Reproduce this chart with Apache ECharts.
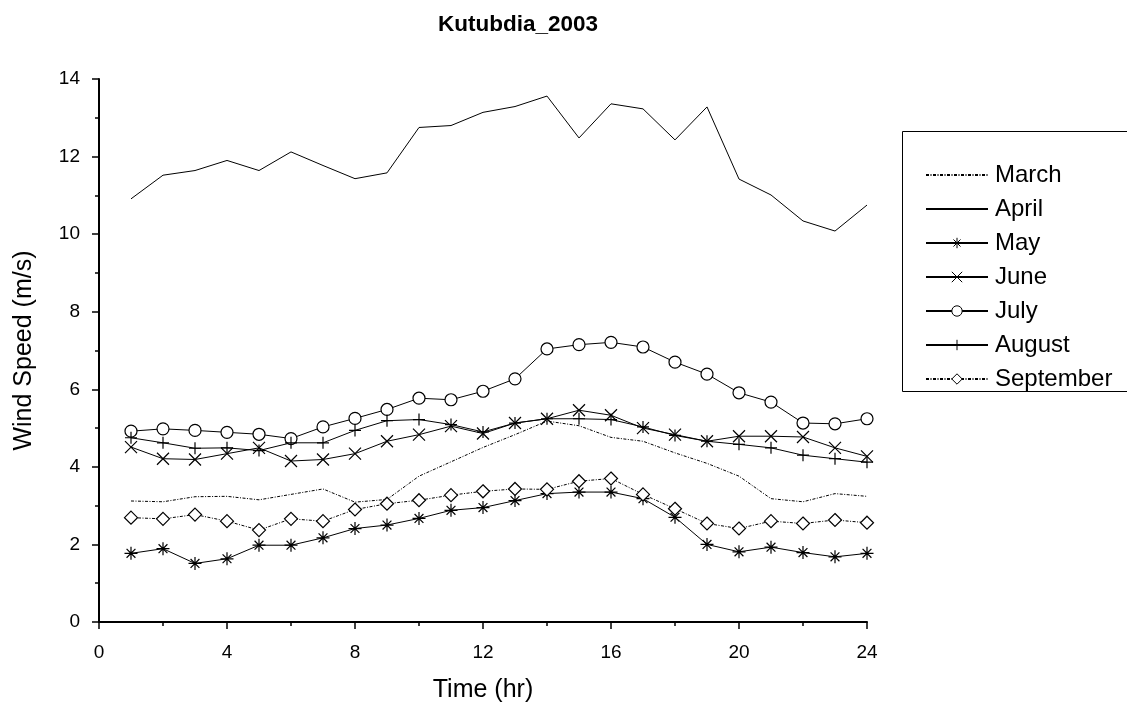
<!DOCTYPE html>
<html>
<head>
<meta charset="utf-8">
<script src="https://cdn.jsdelivr.net/npm/echarts@6/dist/echarts.min.js"></script>
<style>html,body{margin:0;padding:0;background:#fff}#c{width:1127px;height:711px}</style>
</head>
<body>
<div id="c"></div>
<script>
const hours = [1,2,3,4,5,6,7,8,9,10,11,12,13,14,15,16,17,18,19,20,21,22,23,24];
const xTicks = [0,4,8,12,16,20,24];
const yTicks = [0,2,4,6,8,10,12,14];
const march = [3.12,3.10,3.23,3.24,3.15,3.29,3.43,3.09,3.16,3.76,4.13,4.50,4.83,5.18,5.06,4.76,4.66,4.36,4.09,3.76,3.18,3.10,3.31,3.24];
const april = [10.91,11.52,11.64,11.90,11.64,12.12,11.77,11.43,11.58,12.75,12.80,13.14,13.29,13.56,12.48,13.36,13.23,12.43,13.28,11.42,11.01,10.34,10.08,10.75];
const may = [1.77,1.89,1.51,1.63,1.98,1.98,2.17,2.41,2.50,2.67,2.88,2.95,3.13,3.31,3.35,3.35,3.18,2.70,2.00,1.81,1.93,1.79,1.68,1.77];
const june = [4.51,4.21,4.19,4.34,4.49,4.15,4.19,4.34,4.66,4.83,5.05,4.86,5.13,5.24,5.46,5.33,5.00,4.83,4.66,4.79,4.79,4.77,4.49,4.27];
const july = [4.92,4.98,4.94,4.89,4.84,4.73,5.03,5.25,5.48,5.77,5.73,5.95,6.27,7.04,7.15,7.21,7.09,6.70,6.39,5.91,5.67,5.13,5.11,5.24];
const august = [4.75,4.62,4.48,4.49,4.42,4.62,4.62,4.94,5.19,5.22,5.09,4.90,5.13,5.24,5.24,5.22,5.03,4.81,4.66,4.58,4.49,4.30,4.21,4.12];
const september = [2.69,2.66,2.77,2.60,2.37,2.66,2.60,2.90,3.05,3.14,3.27,3.37,3.43,3.42,3.63,3.70,3.29,2.92,2.54,2.41,2.60,2.54,2.63,2.56];
const names = ['March','April','May','June','July','August','September'];

const FONT = '"Liberation Sans", Arial, sans-serif';
const pair = arr => hours.map((h, i) => [h, arr[i]]);
const ASTER = 'path://M5 0L5 10M0 5L10 5M1.6 1.6L8.4 8.4M8.4 1.6L1.6 8.4';
const XMARK = 'path://M0 0L10 10M10 0L0 10';
const PLUS = 'path://M5 0L5 10M0 5L10 5';

function mk(name, data, symbol, size, lineType, fill) {
  return {
    name: name, type: 'line', data: pair(data),
    symbol: symbol, symbolSize: size, showSymbol: symbol !== 'none', showAllSymbol: true,
    lineStyle: {color: '#000', width: 1, type: lineType},
    itemStyle: {color: fill, borderColor: '#000', borderWidth: 1.2},
    emphasis: {disabled: true}, animation: false
  };
}

const legendData = names.map(n => (n === 'March' || n === 'April')
  ? {name: n, itemStyle: {opacity: 0}}
  : {name: n, itemStyle: {borderWidth: 1}});

const chart = echarts.init(document.getElementById('c'));
chart.setOption({
  backgroundColor: '#fff',
  animation: false,
  grid: {left: 99, right: 260, top: 79, bottom: 89, containLabel: false, outerBoundsMode: 'none'},
  graphic: [
    {type: 'text', style: {x: 518, y: 25, text: 'Kutubdia_2003', textAlign: 'center', textVerticalAlign: 'middle', font: 'bold 22.5px ' + FONT, fill: '#000'}},
    {type: 'rect', shape: {x: 902.5, y: 131.5, width: 260, height: 260}, style: {fill: 'none', stroke: '#000', lineWidth: 1}}
  ],
  legend: {
    data: legendData, orient: 'vertical', left: 920, top: 158, padding: 5,
    itemWidth: 62, itemHeight: 13, itemGap: 10,
    textStyle: {fontFamily: FONT, fontSize: 24, lineHeight: 24, color: '#000', padding: [0, 0, 0, 2]},
    selectedMode: false
  },
  xAxis: {
    type: 'value', min: 0, max: 24, interval: 4,
    name: 'Time (hr)', nameLocation: 'middle', nameGap: 56,
    nameTextStyle: {fontFamily: FONT, fontSize: 25, color: '#000'},
    axisLine: {show: true, onZero: false, lineStyle: {color: '#000', width: 2}},
    axisTick: {show: true, inside: false, length: 7, lineStyle: {color: '#000', width: 1.5}},
    minorTick: {show: true, splitNumber: 2, length: 4, lineStyle: {color: '#000', width: 1.5}},
    axisLabel: {margin: 21, fontFamily: FONT, fontSize: 19, color: '#000',
      formatter: v => xTicks.indexOf(v) >= 0 ? String(v) : ''},
    splitLine: {show: false}
  },
  yAxis: {
    type: 'value', min: 0, max: 14, interval: 2,
    name: 'Wind Speed (m/s)', nameLocation: 'middle', nameGap: 62,
    nameTextStyle: {fontFamily: FONT, fontSize: 25, color: '#000'},
    axisLine: {show: true, onZero: false, lineStyle: {color: '#000', width: 2}},
    axisTick: {show: true, inside: false, length: 7, lineStyle: {color: '#000', width: 1.5}},
    minorTick: {show: true, splitNumber: 2, length: 4, lineStyle: {color: '#000', width: 1.5}},
    axisLabel: {margin: 19, fontFamily: FONT, fontSize: 19, color: '#000',
      formatter: v => yTicks.indexOf(v) >= 0 ? String(v) : ''},
    splitLine: {show: false}
  },
  series: [
    mk('March', march, 'none', 0, [3, 1.5, 1, 1.5], '#000'),
    mk('April', april, 'none', 0, 'solid', '#000'),
    mk('May', may, ASTER, 13, 'solid', '#000'),
    mk('June', june, XMARK, 12, 'solid', '#000'),
    mk('July', july, 'circle', 12, 'solid', '#fff'),
    mk('August', august, PLUS, 12, 'solid', '#000'),
    mk('September', september, 'diamond', 13, [3, 1.5, 1, 1.5], '#fff')
  ]
});
</script>
</body>
</html>
